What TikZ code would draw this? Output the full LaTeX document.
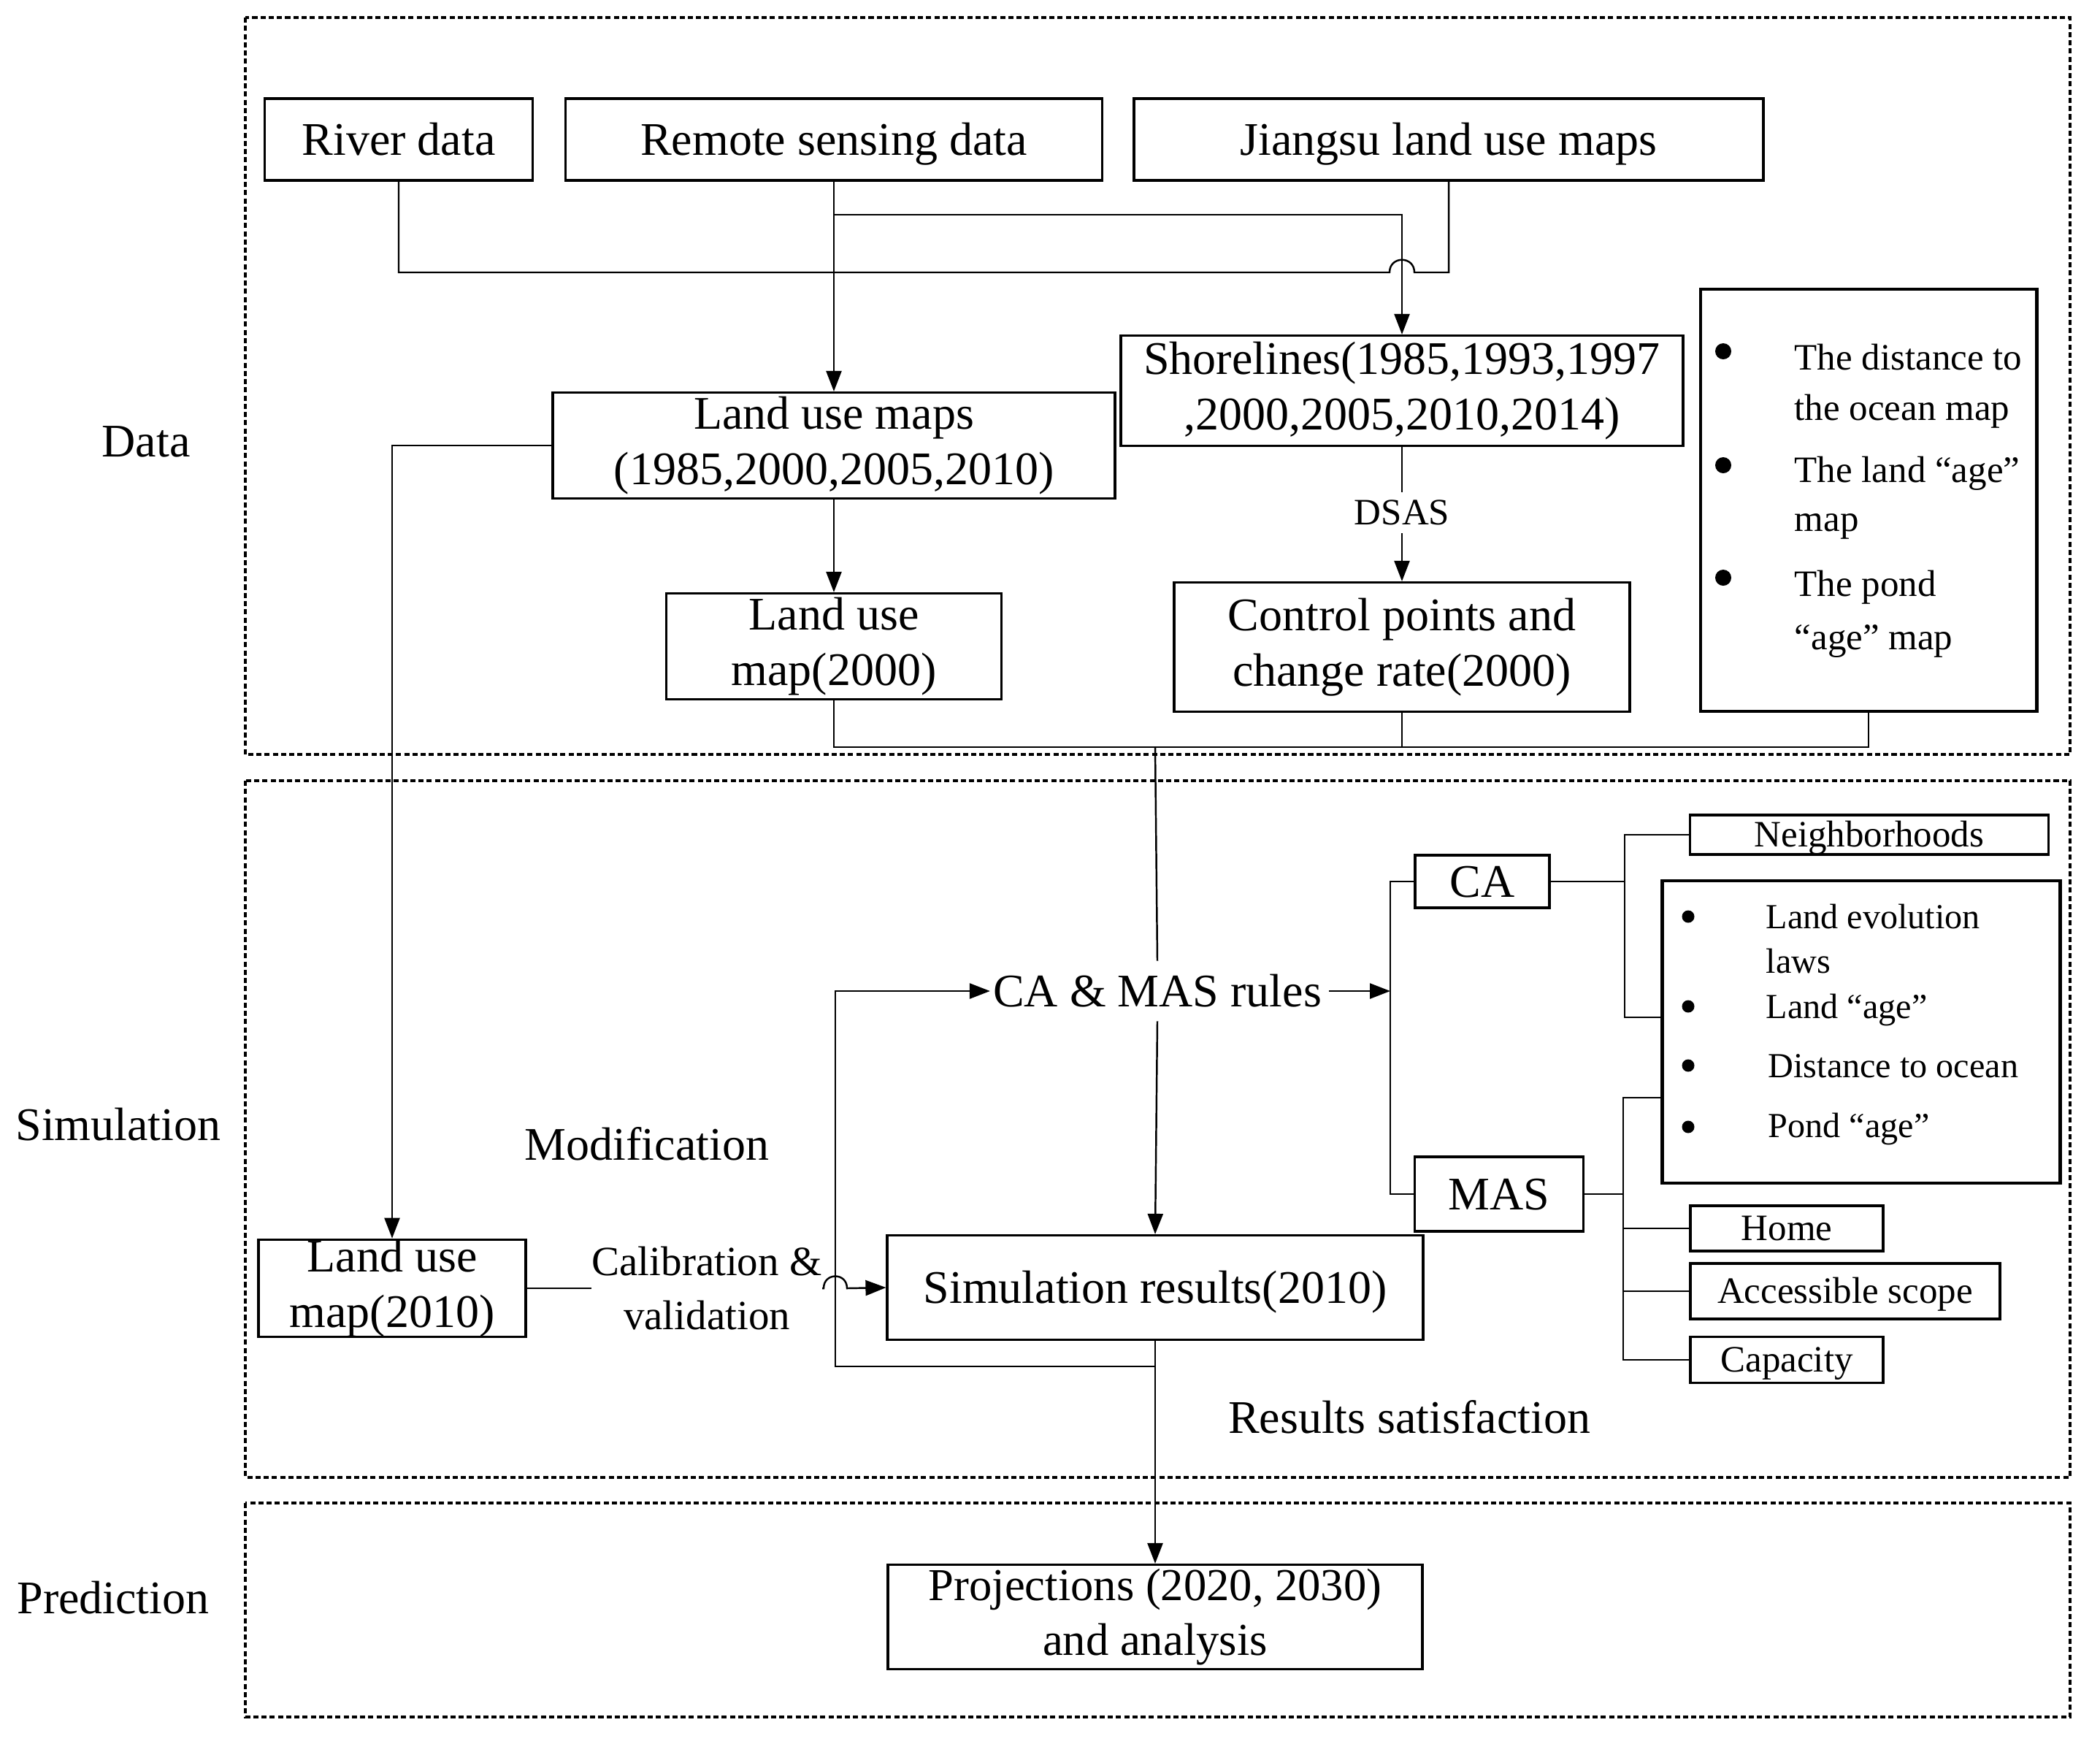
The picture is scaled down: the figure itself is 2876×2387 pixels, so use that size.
\documentclass[tikz,border=0pt]{standalone}
\usepackage{fontspec}
\setmainfont{Liberation Serif}
\usetikzlibrary{arrows.meta}
\newcommand\ftmain{\fontsize{18.2pt}{21.5pt}\selectfont}
\newcommand\ftcal{\fontsize{16.2pt}{20.8pt}\selectfont}
\newcommand\ftproj{\fontsize{17.8pt}{21.5pt}\selectfont}
\newcommand\ftsm{\fontsize{14.5pt}{17pt}\selectfont}
\newcommand\ftbulb{\fontsize{13.7pt}{17pt}\selectfont}
\tikzset{
  sz/.style 2 args={minimum width=#1*0.01cm,minimum height=#2*0.01cm},
  box/.style={draw,line width=0.9pt,align=center,inner sep=0pt,font=\ftmain},
  sbox/.style={draw,line width=0.9pt,align=center,inner sep=0pt,font=\ftsm,text height=10pt,text depth=0.4pt},
  oneline/.style={text height=12.6pt,text depth=0.5pt},
  bbox/.style={draw,line width=1.4pt,inner sep=0pt},
  frame/.style={draw,line width=0.9pt,dash pattern=on 2pt off 1.2pt},
  lbl/.style={inner sep=0pt,font=\ftmain},
  conn/.style={line width=0.7pt},
  arr/.style={line width=0.7pt,-{Triangle[length=0.28cm,width=0.21cm]}},
  btxt/.style={anchor=base west,inner sep=0pt,font=\ftsm},
  btxtb/.style={anchor=base west,inner sep=0pt,font=\ftbulb},
}
\begin{document}
\begin{tikzpicture}[x=0.01cm,y=-0.01cm]
\useasboundingbox (0,0) rectangle (2876,2387);
% section frames
\draw[frame] (336,24) rectangle (2835,1033);
\draw[frame] (336,1069) rectangle (2835,2023);
\draw[frame] (336,2058) rectangle (2835,2351);
% section labels
\node[lbl] (tdata) at (200,605) {Data};
\node[lbl] (tsim) at (162,1540) {Simulation};
\node[lbl] (tpred) at (155,2188) {Prediction};
% data boxes
\node[box,oneline,sz={367}{112}] (river) at (546,191) {River data};
\node[box,oneline,sz={735}{112}] (remote) at (1142,191) {Remote sensing data};
\node[box,oneline,sz={862}{112}] (jiangsu) at (1984,191) {Jiangsu land use maps};
\node[box,sz={770}{151}] (shore) at (1920,535) {Shorelines(1985,1993,1997\\,2000,2005,2010,2014)};
\node[box,sz={770}{145}] (lum) at (1142,610) {Land use maps\\(1985,2000,2005,2010)};
\node[box,sz={459}{145}] (lum2000) at (1142,885) {Land use\\map(2000)};
\node[box,sz={624}{177}] (ctrl) at (1920,886) {Control points and\\change rate(2000)};
\node[bbox,sz={460}{578}] (bul1) at (2559,685) {};
\fill (2360,481) circle[radius=0.11cm];
\fill (2360,637) circle[radius=0.11cm];
\fill (2360,791) circle[radius=0.11cm];
\node[btxt] (b1a) at (2457,506) {The distance to};
\node[btxt] (b1b) at (2457,575) {the ocean map};
\node[btxt] (b1c) at (2457,660) {The land “age”};
\node[btxt] (b1d) at (2457,727) {map};
\node[btxt] (b1e) at (2457,816) {The pond};
\node[btxt] (b1f) at (2457,889) {“age” map};
% DSAS
\node[inner sep=3pt,font=\ftsm] (dsas) at (1920,702) {DSAS};
% data connectors
\coordinate (j1) at (1142,294);
\draw[arr] (remote.south) -- (lum.north);
\draw[arr] (j1) -| (shore.north);
\coordinate (hl) at (1903,373);
\coordinate (hr) at (1937,373);
\draw[conn] (river.south) |- (hl) .. controls (1903,350) and (1937,350) .. (hr) -| (jiangsu.south);
\draw[conn] (shore.south) -- (dsas.north);
\draw[arr] (dsas.south) -- (ctrl.north);
\draw[arr] (lum.south) -- (lum2000.north);
\coordinate (bj) at (2559,1023);
\coordinate (dj) at (1582,1023);
\draw[conn] (lum2000.south) |- (bj) -- (bul1.south);
\draw[conn] (ctrl.south) -- (ctrl.south |- bj);
% simulation
\node[lbl,oneline,inner xsep=1pt,inner ysep=5pt] (rules) at (1585,1357) {CA \& MAS rules};
\node[box,sz={366}{131}] (lum2010) at (537,1764) {Land use\\map(2010)};
\node[box,oneline,sz={734}{143}] (sim) at (1582,1763) {Simulation results(2010)};
\node[box,sz={732}{143},font=\ftproj] (proj) at (1582,2214) {Projections (2020, 2030)\\and analysis};
\node[inner sep=0pt,align=center,font=\ftcal] (cal) at (968,1764) {Calibration \&\\validation};
\node[lbl] (modif) at (886,1566) {Modification};
\node[lbl] (satis) at (1930,1940) {Results satisfaction};
\draw[arr] (lum.west) -| (lum2010.north);
\draw[conn] (dj) -- (rules.north);
\draw[arr] (rules.south) -- (sim.north);
\draw[arr] (sim.south) -- (proj.north);
\coordinate (m1) at (1582,1871);
\coordinate (m3) at (1144,1357);
\draw[arr] (m1) -| (m3) -- (rules.west);
\draw[conn] (lum2010.east) -- (cal.west);
\coordinate (cl) at (1128,1764);
\coordinate (cr) at (1160,1764);
\draw[arr] (cal.east) -- (cl) .. controls (1128,1742) and (1160,1742) .. (cr) -- (sim.west);
% CA / MAS
\node[box,oneline,sz={184}{72}] (ca) at (2030,1207) {CA};
\node[box,oneline,sz={231}{102}] (mas) at (2053,1635) {MAS};
\coordinate (cab) at (1904,1207);
\coordinate (masb) at (1904,1635);
\draw[arr] (rules.east) ++(0.06cm,0) -- (rules.east -| cab);
\draw[conn] (ca.west) -- (cab) -- (masb) -- (mas.west);
\node[sbox,sz={491}{54}] (neigh) at (2560,1143) {Neighborhoods};
\node[bbox,sz={545}{414}] (bul2) at (2549,1413) {};
\fill (2312,1255) circle[radius=0.085cm];
\fill (2312,1378) circle[radius=0.085cm];
\fill (2312,1459) circle[radius=0.085cm];
\fill (2312,1543) circle[radius=0.085cm];
\node[btxtb] (b2a) at (2418,1271) {Land evolution};
\node[btxtb] (b2b) at (2418,1332) {laws};
\node[btxtb] (b2c) at (2418,1394) {Land “age”};
\node[btxtb] (b2d) at (2421,1475) {Distance to ocean};
\node[btxtb] (b2e) at (2421,1557) {Pond “age”};
\node[sbox,sz={264}{62}] (home) at (2447,1682) {Home};
\node[sbox,sz={424}{76}] (access) at (2527,1768) {Accessible scope};
\node[sbox,sz={264}{63}] (capac) at (2447,1862) {Capacity};
\coordinate (cb1) at (2225,1143);
\coordinate (cb2) at (2225,1393);
\draw[conn] (ca.east) -- (ca.east -| cb1);
\draw[conn] (neigh.west) -- (cb1) -- (cb2) -- (cb2 -| bul2.west);
\coordinate (mb1) at (2223,1503);
\coordinate (mb2) at (2223,1862);
\draw[conn] (mas.east) -- (mas.east -| mb1);
\draw[conn] (mb1 -| bul2.west) -- (mb1) -- (mb2) -- (capac.west);
\draw[conn] (home.west) -- (home.west -| mb1);
\draw[conn] (access.west) -- (access.west -| mb1);
\end{tikzpicture}
\end{document}
